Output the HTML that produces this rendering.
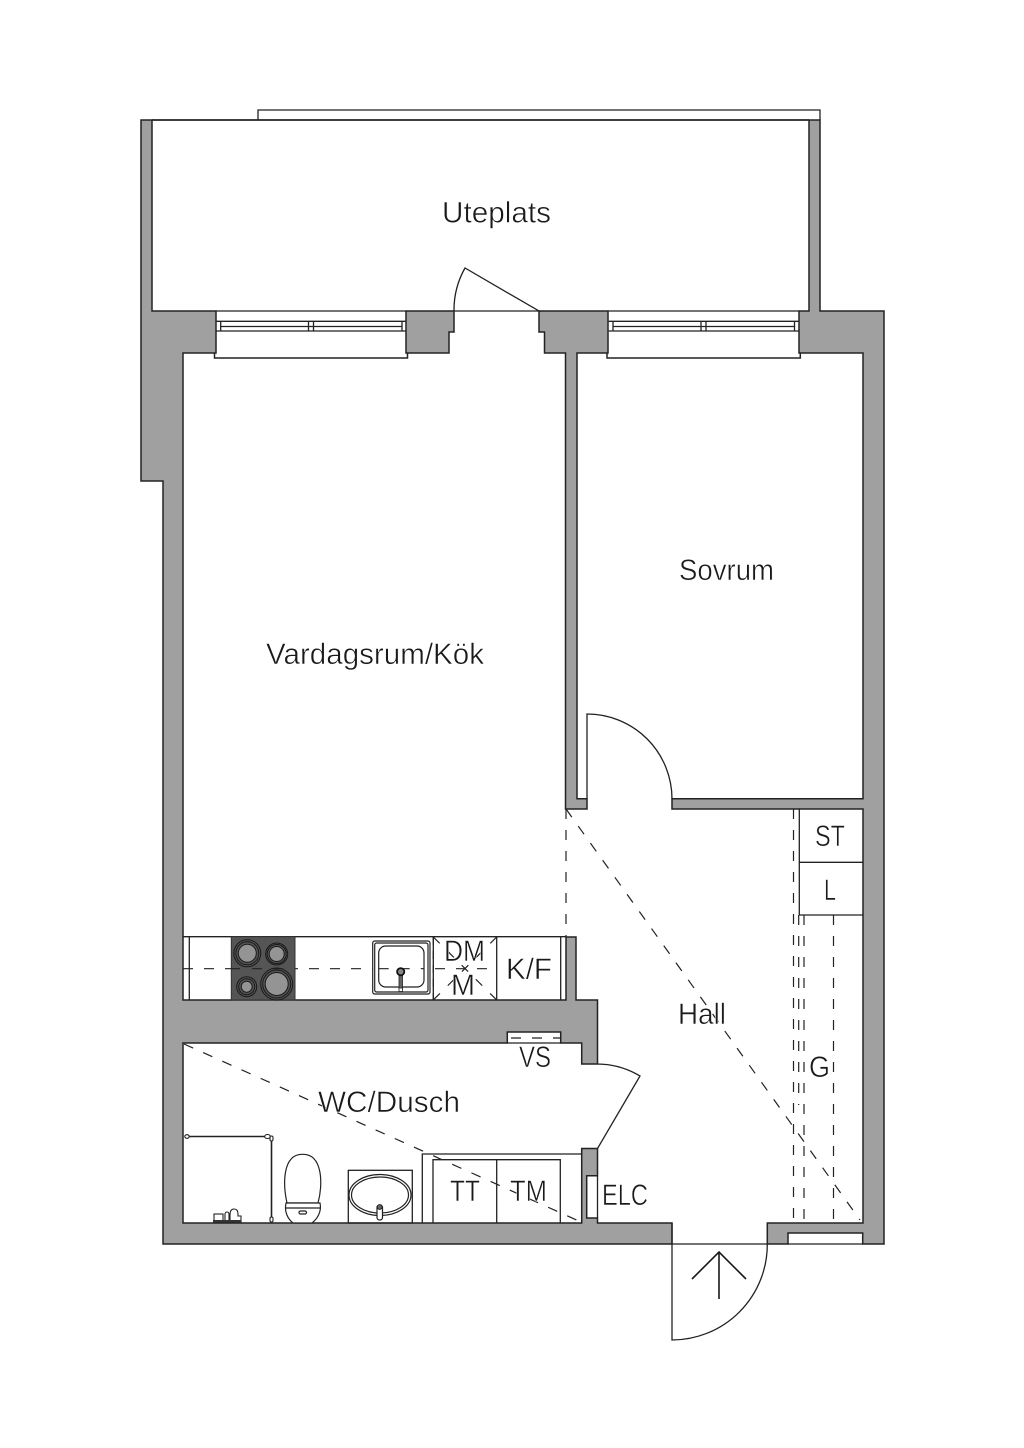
<!DOCTYPE html>
<html><head><meta charset="utf-8"><style>
html,body{margin:0;padding:0;background:#fff}
svg{display:block}
text{font-family:"Liberation Sans",sans-serif;font-size:29.5px;fill:#1a1a1a;stroke:#fff;stroke-width:.5}
</style></head><body>
<svg width="1024" height="1448" viewBox="0 0 1024 1448" xmlns="http://www.w3.org/2000/svg">
<rect width="1024" height="1448" fill="#fff"/>
<g fill="#a0a0a0" stroke="#222" stroke-width="1.5" stroke-linejoin="miter">
<polygon points="141,120 152,120 152,311 216,311 216,353 183,353 183,1000 566,1000 566,937 576,937 576,1000 597.5,1000 597.5,1064 581.7,1064 581.7,1043 560.7,1043 560.7,1032 507.3,1032 507.3,1043 183,1043 183,1223 581.7,1223 581.7,1148.5 597.5,1148.5 597.5,1175.7 586.7,1175.7 586.7,1218 597.5,1218 597.5,1223 672,1223 672,1244 163,1244 163,481 141,481"/>
<polygon points="767.3,1244 767.3,1223 863,1223 863,809 672,809 672,798.7 863,798.7 863,353 799,353 799,311 809,311 809,120 820,120 820,311 884,311 884,1244 862.7,1244 862.7,1233 788,1233 788,1244"/>
<polygon points="406,311 454,311 454,332 449,332 449,353 406,353"/>
<polygon points="539,311 608,311 608,353 577,353 577,798.7 587,798.7 587,809 565.5,809 565.5,353 544.5,353 544.5,332 539,332"/>
</g>
<g fill="none" stroke="#222" stroke-width="1.3">
<path d="M152,120H809" stroke-width="1.8"/>
<path d="M258,120V110H820V120"/>
<path d="M454,311H539L465,268A85.6,85.6 0 0 0 454,311"/>
<path d="M216,311H406M608,311H799"/>
<!-- niches closed -->
<path d="M597.5,1175.7V1218"/>
<path d="M788,1244H862.7"/>
<path d="M507.3,1043H560.7"/>
<!-- windows -->
<path d="M216,321.3H406M220.7,326.5H402M216,331H406M220.7,321.3V331M402,321.3V331M308.5,321.3V331M313.5,321.3V331"/>
<path d="M214.5,353V358H407.5V353" stroke-width="1.5"/>
<path d="M608.7,321.3H799M613,326.5H794.5M608.7,331H799M613,321.3V331M794.5,321.3V331M701,321.3V331M706,321.3V331"/>
<path d="M607,353V358H800.3V353" stroke-width="1.5"/>
<!-- doors -->
<path d="M587,799V714A85,85 0 0 1 672,799"/>
<path d="M672,1223V1340A95.5,95.5 0 0 0 767.3,1244M672,1244H767.3"/>
<path d="M597.5,1064A84,84 0 0 1 640,1076L597.5,1148.5"/>
<!-- hall storage -->
<path d="M799.3,809V915H863M799.3,862.3H863"/>
<!-- kitchen -->
<path d="M183,936.7H566M189.3,936.7V1000M433.3,936.7V1000M496.7,936.7V1000M560.7,936.7V1000"/>
<!-- bath fixtures -->
<path d="M422.3,1223V1154H581.7M433,1223V1159.7H560.3V1223M496.7,1159.7V1223"/>
<rect x="348.3" y="1170.3" width="64" height="52.7"/>
</g>
<!-- dashed -->
<g fill="none" stroke="#222" stroke-width="1.2" stroke-dasharray="10 11">
<path d="M566,809V937"/>
<path d="M566,809L860,1220"/>
<path d="M184,1044L581,1222"/>
<path d="M793.5,809V1223"/>
<path d="M798.7,915V1105"/>
<path d="M804,915V1223"/>
<path d="M833.5,915V1223"/>
<path d="M183,968.7H497"/>
<path d="M511,1038H560" />
<path d="M433.3,937V1000" stroke-dasharray="8 6"/>
<path d="M433.3,937L496.7,1000M496.7,937L433.3,1000" stroke-dasharray="9 11"/>
</g>
<!-- hob -->
<rect x="231.3" y="936.7" width="63.7" height="63.3" fill="#555" stroke="#333"/>
<g stroke="#1a1a1a" stroke-width="1" fill="none">
<circle cx="247.3" cy="953.3" r="13.5"/><circle cx="247.3" cy="953.3" r="11.5"/><circle cx="247.3" cy="953.3" r="9" fill="#949494"/>
<circle cx="276.7" cy="954" r="11"/><circle cx="276.7" cy="954" r="9.5"/><circle cx="276.7" cy="954" r="7.5" fill="#949494"/>
<circle cx="246.7" cy="986.7" r="10"/><circle cx="246.7" cy="986.7" r="8"/><circle cx="246.7" cy="986.7" r="5.5" fill="#949494"/>
<circle cx="276.7" cy="984" r="16"/><circle cx="276.7" cy="984" r="14"/><circle cx="276.7" cy="984" r="11.5" fill="#949494"/>
</g>
<path d="M231,968.7H240M252,968.7H262M273,968.7H283" stroke="#222" stroke-width="1.2"/>
<!-- sink -->
<g fill="#fff" stroke="#222" stroke-width="1.2">
<rect x="372.7" y="941" width="57.3" height="53" rx="2"/>
<rect x="374.7" y="943" width="53.3" height="49" rx="2"/>
<rect x="378.7" y="946" width="45.3" height="41" rx="7"/>
</g>
<path d="M378.7,968.7H424" stroke="#222" stroke-width="1.2" stroke-dasharray="10 11"/>
<rect x="399" y="972" width="3.5" height="17" fill="#666" stroke="#222" stroke-width=".8"/>
<rect x="399" y="988" width="3.5" height="3.5" fill="#fff" stroke="#222" stroke-width=".8"/>
<circle cx="400.7" cy="971.7" r="3.6" fill="#888" stroke="#111" stroke-width="1.8"/>
<!-- basin -->
<g fill="none" stroke="#222" stroke-width="1.2">
<ellipse cx="380" cy="1195" rx="31" ry="20.5"/>
<ellipse cx="380" cy="1195" rx="28.5" ry="18"/>
</g>
<rect x="377" y="1205" width="5.5" height="15" rx="2.5" fill="#fff" stroke="#222" stroke-width="1.2"/>
<circle cx="379.7" cy="1207" r="2.4" fill="#666" stroke="#222"/>
<!-- toilet -->
<g fill="#fff" stroke="#222" stroke-width="1.2">
<path d="M287,1203C283,1185 282,1154 302.7,1154.3C323,1154 323,1185 318,1203Z"/>
<path d="M286,1203H320C322,1212 317,1219 312,1223H293C288,1219 284,1212 286,1203Z"/>
<path d="M286,1208H320"/>
<rect x="299" y="1211" width="7.5" height="3" rx="1.5"/>
</g>
<!-- shower -->
<path d="M185,1136.5H270M271.5,1136.5V1220" fill="none" stroke="#222" stroke-width="1.6"/>
<g fill="#fff" stroke="#222" stroke-width="1.1">
<ellipse cx="187" cy="1136.5" rx="2.2" ry="1.8"/>
<ellipse cx="267.5" cy="1136.5" rx="2.8" ry="2"/>
<rect x="270" y="1136" width="3" height="5" rx="1.5"/>
<rect x="270" y="1217" width="3" height="5" rx="1.5"/>
</g>
<!-- shower mixer -->
<g fill="#fff" stroke="#222" stroke-width="1.1">
<rect x="214" y="1214" width="9" height="7.5"/>
<rect x="225" y="1212" width="4" height="10" rx="2"/>
<path d="M230,1222V1215Q230,1209 234,1209Q238,1209 238,1214V1216H241V1222Z"/>
</g>
<rect x="213" y="1220" width="28" height="2.5" fill="#333"/>
<!-- arrow -->
<path d="M719,1299V1252M692,1279L719,1252L746,1279" fill="none" stroke="#1a1a1a" stroke-width="1.6"/>
<!-- labels -->
<text x="442" y="222.5" textLength="109" lengthAdjust="spacingAndGlyphs">Uteplats</text>
<text x="679" y="580" textLength="95" lengthAdjust="spacingAndGlyphs">Sovrum</text>
<text x="266" y="664" textLength="218" lengthAdjust="spacingAndGlyphs">Vardagsrum/Kök</text>
<text x="678" y="1024" textLength="48" lengthAdjust="spacingAndGlyphs">Hall</text>
<text x="809" y="1077" textLength="21" lengthAdjust="spacingAndGlyphs">G</text>
<text x="815" y="846" textLength="30" lengthAdjust="spacingAndGlyphs">ST</text>
<text x="824" y="900" textLength="12" lengthAdjust="spacingAndGlyphs">L</text>
<text x="506" y="979" textLength="46" lengthAdjust="spacingAndGlyphs">K/F</text>
<text x="444" y="961" textLength="41" lengthAdjust="spacingAndGlyphs">DM</text>
<text x="451" y="995" textLength="24" lengthAdjust="spacingAndGlyphs">M</text>
<text x="519" y="1067" textLength="32" lengthAdjust="spacingAndGlyphs">VS</text>
<text x="318" y="1112" textLength="142" lengthAdjust="spacingAndGlyphs">WC/Dusch</text>
<text x="450" y="1201" textLength="30" lengthAdjust="spacingAndGlyphs">TT</text>
<text x="510" y="1201" textLength="37" lengthAdjust="spacingAndGlyphs">TM</text>
<text x="602" y="1205" textLength="46" lengthAdjust="spacingAndGlyphs">ELC</text>
</svg>
</body></html>
